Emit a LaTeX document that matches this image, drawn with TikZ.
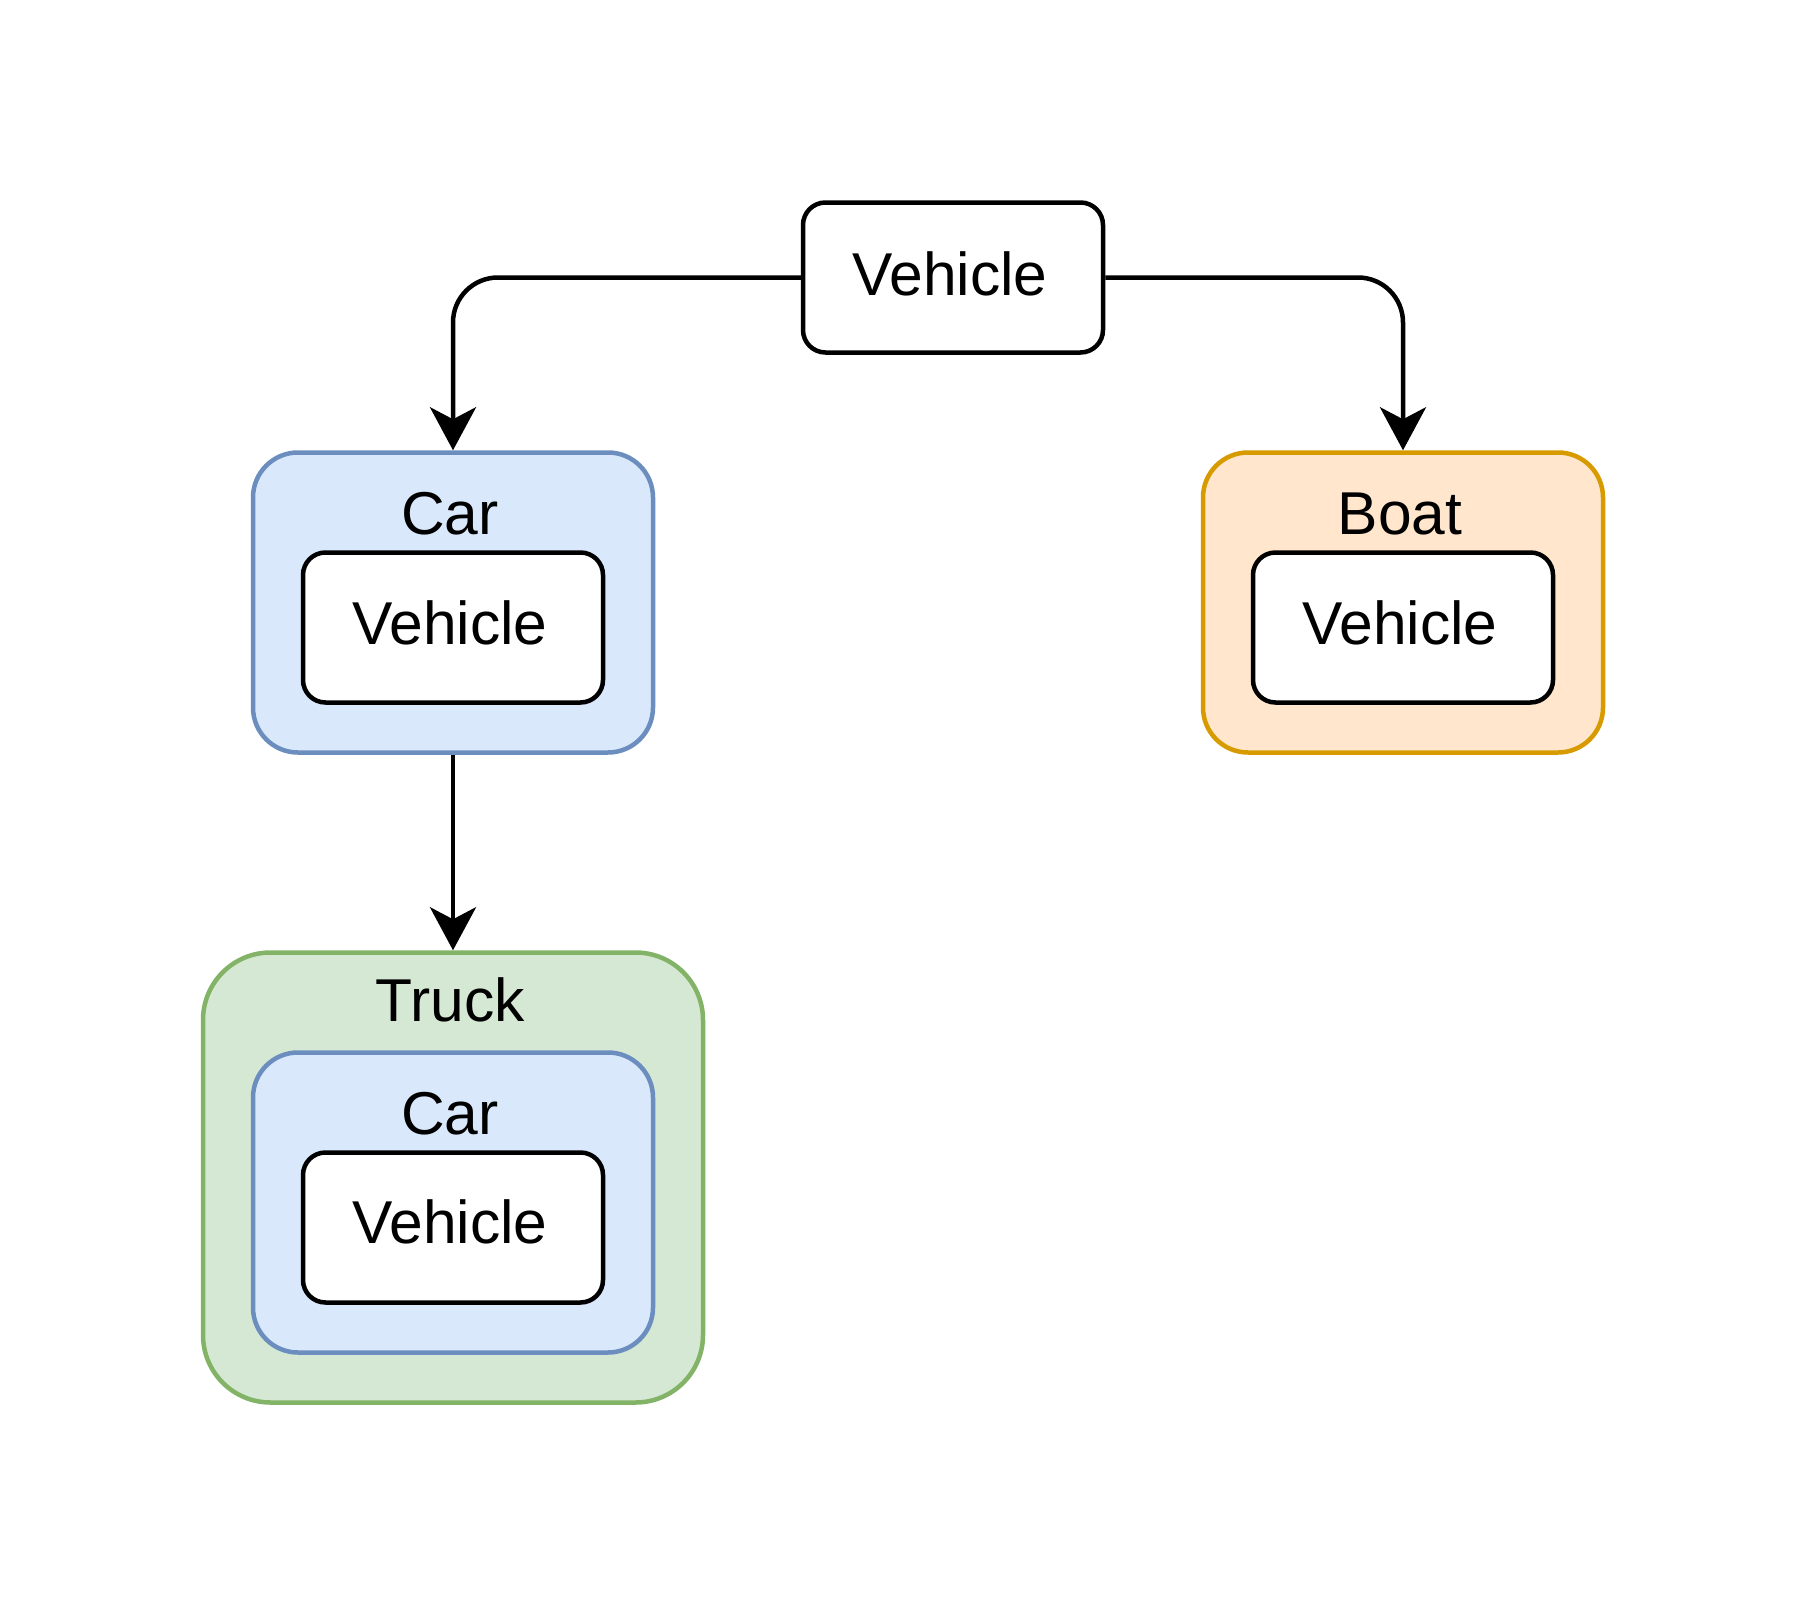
\documentclass[tikz,border=0pt]{standalone}
\usepackage{fontspec}
\setmainfont{Liberation Sans}
\usetikzlibrary{arrows.meta}

\definecolor{carfill}{HTML}{DAE8FC}
\definecolor{carline}{HTML}{6C8EBF}
\definecolor{boatfill}{HTML}{FFE6CC}
\definecolor{boatline}{HTML}{D79B00}
\definecolor{truckfill}{HTML}{D5E8D4}
\definecolor{truckline}{HTML}{82B366}

\begin{document}
\begin{tikzpicture}[x=1pt,y=-1pt,
  frame/.style={draw, line width=4.5pt, inner sep=0pt},
  vehiclebox/.style={frame, fill=white, draw=black, rounded corners=22.5pt,
    minimum width=300pt, minimum height=150pt},
  carbox/.style={frame, fill=carfill, draw=carline, rounded corners=45pt,
    minimum width=400pt, minimum height=300pt},
  boatbox/.style={frame, fill=boatfill, draw=boatline, rounded corners=45pt,
    minimum width=400pt, minimum height=300pt},
  truckbox/.style={frame, fill=truckfill, draw=truckline, rounded corners=67.5pt,
    minimum width=500pt, minimum height=450pt},
  lbl/.style={anchor=base, inner sep=0pt, xshift=-3pt,
    font=\fontsize{60.5}{72}\selectfont},
  conn/.style={draw=black, line width=4.5pt, rounded corners=45pt,
    -{Stealth[length=43pt, width=46pt, inset=12pt]}}
]
  % canvas
  \fill[white] (0,0) rectangle (1800,1600);
  \useasboundingbox (0,0) rectangle (1800,1600);

  % base class
  \node[vehiclebox] (v0) at (953,277.5) {};
  \node[lbl] (v0t) at (953,295) {Vehicle};

  % Car
  \node[carbox] (car) at (453,602.5) {};
  \node[lbl] (cart) at (453,534) {Car};
  \node[vehiclebox] (carv) at (453,627.5) {};
  \node[lbl] (carvt) at (453,644) {Vehicle};

  % Boat
  \node[boatbox] (boat) at (1403,602.5) {};
  \node[lbl] (boatt) at (1403,534) {Boat};
  \node[vehiclebox] (boatv) at (1403,627.5) {};
  \node[lbl] (boatvt) at (1403,644) {Vehicle};

  % Truck
  \node[truckbox] (truck) at (453,1177.5) {};
  \node[lbl] (truckt) at (453,1021) {Truck};
  \node[carbox] (truckc) at (453,1202.5) {};
  \node[lbl] (truckct) at (453,1134) {Car};
  \node[vehiclebox] (truckv) at (453,1227.5) {};
  \node[lbl] (truckvt) at (453,1243.5) {Vehicle};

  % connectors
  \draw[conn] (v0.west) -| (car.north);
  \draw[conn] (v0.east) -| (boat.north);
  \draw[conn] (car.south) -- (truck.north);
\end{tikzpicture}
\end{document}
